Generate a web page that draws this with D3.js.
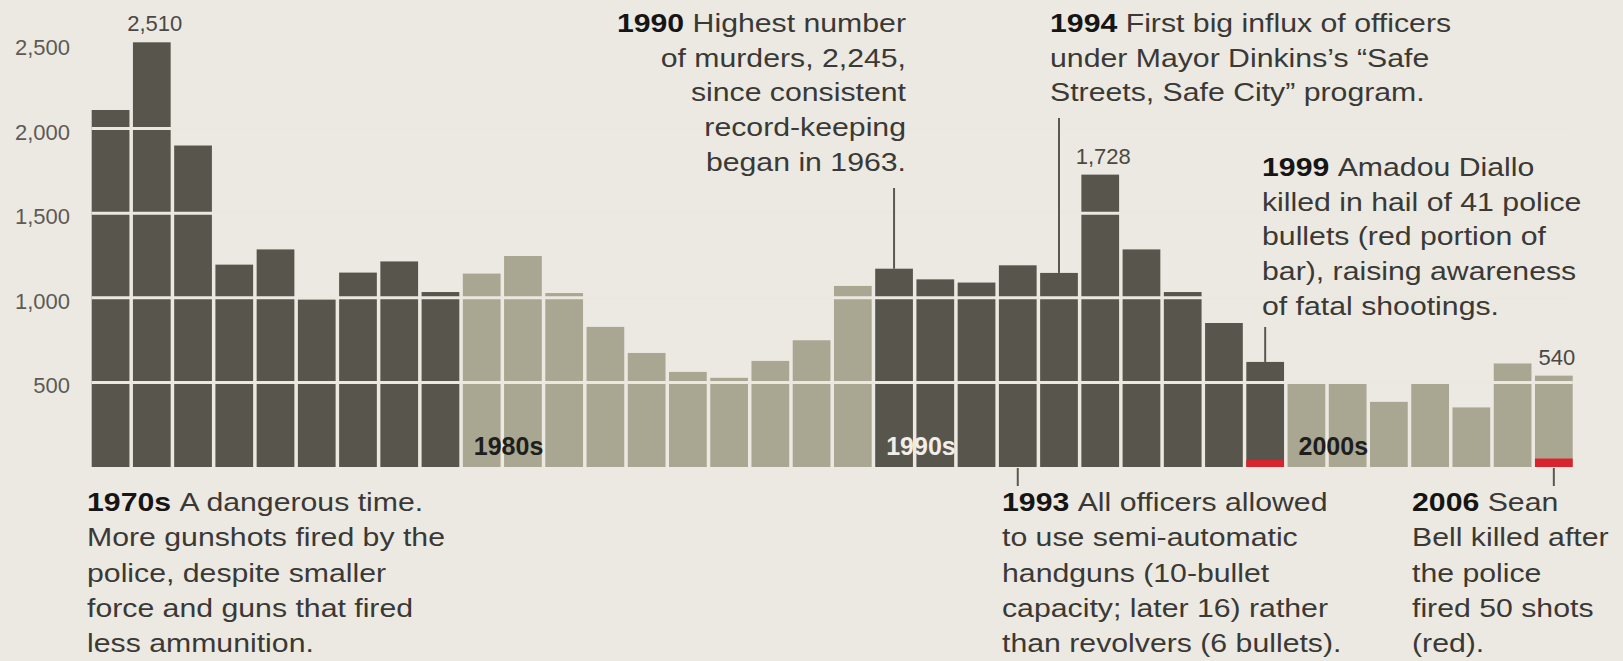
<!DOCTYPE html>
<html>
<head>
<meta charset="utf-8">
<script src="https://cdn.jsdelivr.net/npm/d3@7"></script>
<style>
  html, body { margin: 0; padding: 0; background: #ece9e2; }
  svg { display: block; }
  text { font-family: "Liberation Sans", Arial, Helvetica, sans-serif; }
  .tick-label { font-size: 22px; fill: #5c5a55; }
  .value-label { font-size: 22px; fill: #4a4844; }
  .decade { font-size: 25px; font-weight: bold; }
  .note { font-size: 25px; fill: #3a3936; }
  .note .lead { font-weight: bold; fill: #151515; }
  .leader { stroke: #5a5853; stroke-width: 2; }
</style>
</head>
<body>
<div id="chart" style="width:1623px;height:661px"></div>
<script>
// police shots fired per year
const years = [1971, 1972, 1973, 1974, 1975, 1976, 1977, 1978, 1979,
  1980, 1981, 1982, 1983, 1984, 1985, 1986, 1987, 1988, 1989,
  1990, 1991, 1992, 1993, 1994, 1995, 1996, 1997, 1998, 1999,
  2000, 2001, 2002, 2003, 2004, 2005, 2006];
const shots = [2110, 2510, 1900, 1196, 1286, 990, 1149, 1215, 1034,
  1143, 1247, 1028, 828, 674, 562, 527, 627, 749, 1070,
  1172, 1109, 1090, 1192, 1147, 1728, 1286, 1034, 851, 621,
  492, 492, 385, 492, 352, 612, 540];
const redYears = [1999, 2006];
const redShots = [41, 50];
const yTicks = [500, 1000, 1500, 2000, 2500];
const gridTicks = [500, 1000, 1500, 2000];
const labelYears = [1972, 1995, 2006];
const decadeLabels = ["1980s", "1990s", "2000s"];
const decadeStarts = [1980, 1990, 2000];

const noteYears = [1990, 1994, 1999, 1970, 1993, 2006];
const noteLeads = ["1990", "1994", "1999", "1970s", "1993", "2006"];
const noteLines = [
  ["Highest number", "of murders, 2,245,", "since consistent", "record-keeping", "began in 1963."],
  ["First big influx of officers", "under Mayor Dinkins\u2019s \u201cSafe", "Streets, Safe City\u201d program."],
  ["Amadou Diallo", "killed in hail of 41 police", "bullets (red portion of", "bar), raising awareness", "of fatal shootings."],
  ["A dangerous time.", "More gunshots fired by the", "police, despite smaller", "force and guns that fired", "less ammunition."],
  ["All officers allowed", "to use semi-automatic", "handguns (10-bullet", "capacity; later 16) rather", "than revolvers (6 bullets)."],
  ["Sean", "Bell killed after", "the police", "fired 50 shots", "(red)."]
];

class Chart {
  constructor(el) {
    this.el = el;
    this.width = 1623;
    this.height = 661;
    this.bg = "#ece9e2";
    this.dark = "#58554d";
    this.light = "#a9a691";
    this.red = "#d9232d";
    this.init();
  }

  init() {
    this.xScale = d3.scaleBand()
      .domain(years)
      .range([91.7, 1572.7])
      .paddingInner(0.085)
      .paddingOuter(0);
    this.yScale = d3.scaleLinear()
      .domain([0, 2500])
      .range([467, 44]);

    this.svg = d3.select(this.el)
      .append("svg")
      .attr("width", this.width)
      .attr("height", this.height);
    this.svg.append("rect")
      .attr("width", this.width)
      .attr("height", this.height)
      .attr("fill", this.bg);

    this.drawBars();
    this.drawAxis();
    this.drawLabels();
    this.drawNotes();
  }

  shade(year) {
    return Math.floor(year / 10) % 2 === 1 ? this.dark : this.light;
  }

  drawBars() {
    const x = this.xScale, y = this.yScale;
    this.svg.append("g")
      .selectAll("rect")
      .data(years)
      .enter()
      .append("rect")
      .attr("x", d => x(d))
      .attr("width", x.bandwidth())
      .attr("y", (d, i) => y(shots[i]))
      .attr("height", (d, i) => y(0) - y(shots[i]))
      .attr("fill", d => this.shade(d));

    this.svg.append("g")
      .selectAll("rect")
      .data(redYears)
      .enter()
      .append("rect")
      .attr("x", d => x(d))
      .attr("width", x.bandwidth())
      .attr("y", (d, i) => y(redShots[i]))
      .attr("height", (d, i) => y(0) - y(redShots[i]))
      .attr("fill", this.red);
  }

  drawAxis() {
    const y = this.yScale;
    const [x0, x1] = this.xScale.range();
    // gridlines cut through the bars in the background colour
    this.svg.append("g")
      .selectAll("line")
      .data(gridTicks)
      .enter()
      .append("line")
      .attr("x1", x0)
      .attr("x2", x1)
      .attr("y1", d => y(d))
      .attr("y2", d => y(d))
      .attr("stroke", "#ebe8e0")
      .attr("stroke-width", 3);

    this.svg.append("g")
      .selectAll("text")
      .data(yTicks)
      .enter()
      .append("text")
      .attr("class", "tick-label")
      .attr("x", 70)
      .attr("y", d => y(d) + 11)
      .attr("text-anchor", "end")
      .text(d3.format(","));
  }

  drawLabels() {
    const x = this.xScale, y = this.yScale;
    this.svg.append("g")
      .selectAll("text")
      .data(labelYears)
      .enter()
      .append("text")
      .attr("class", "value-label")
      .attr("x", d => x(d) + x.bandwidth() / 2 + 3)
      .attr("y", d => y(shots[years.indexOf(d)]) - 11)
      .attr("text-anchor", "middle")
      .text(d => d3.format(",")(shots[years.indexOf(d)]));

    this.svg.append("g")
      .selectAll("text")
      .data(decadeLabels)
      .enter()
      .append("text")
      .attr("class", "decade")
      .attr("x", (d, i) => x(decadeStarts[i]) + 11)
      .attr("y", 455)
      .attr("fill", (d, i) => this.shade(decadeStarts[i]) === this.dark ? "#f1eee8" : "#1e1e1c")
      .text(d => d);
  }

  drawNotes() {
    const x = this.xScale, y = this.yScale;
    const mid = yr => x(yr) + x.bandwidth() / 2;
    const valueOf = yr => shots[years.indexOf(yr)];
    // where each note sits: [left/right x, first baseline, anchor, line step]
    const place = [
      [906, 32, "end", 34.7],
      [1050, 32, "start", 34.7],
      [1262, 176, "start", 34.7],
      [87, 511, "start", 35.3],
      [1002, 511, "start", 35.3],
      [1412, 511, "start", 35.3]
    ];

    noteYears.forEach((yr, i) => {
      const [px, py, anchor, step] = place[i];
      const g = this.svg.append("g")
        .attr("class", "note")
        .attr("transform", `translate(${px}, ${py}) scale(1.21, 1)`);
      noteLines[i].forEach((line, j) => {
        const t = g.append("text")
          .attr("y", j * step)
          .attr("text-anchor", anchor);
        if (j === 0) t.append("tspan").attr("class", "lead").text(noteLeads[i] + " ");
        t.append("tspan").text(line);
      });
    });

    // leader lines from the notes to their bars
    const leaders = [
      [1990, 188, null],
      [1994, 118, null],
      [1999, 327, null],
      [1993, 468, 486],
      [2006, 468, 486]
    ];
    this.svg.append("g")
      .selectAll("line")
      .data(leaders)
      .enter()
      .append("line")
      .attr("class", "leader")
      .attr("x1", d => mid(d[0]))
      .attr("x2", d => mid(d[0]))
      .attr("y1", d => d[1])
      .attr("y2", d => d[2] === null ? y(valueOf(d[0])) : d[2]);
  }
}

new Chart(document.getElementById("chart"));
</script>
</body>
</html>
